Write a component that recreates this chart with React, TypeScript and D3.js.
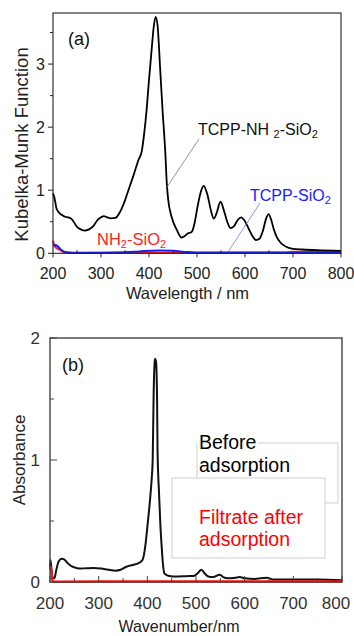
import React, { useEffect, useRef } from "react";
import * as d3 from "d3";

// panel (a): diffuse reflectance, Kubelka-Munk
const aTcppNh2Wl = [200, 203, 207, 212, 218, 225, 232, 238, 243, 250, 258, 266, 275, 284, 292, 300, 306, 313, 320, 330, 340, 350, 358, 367, 378, 385, 390, 395, 400, 405.5, 410, 414, 418, 423, 428, 434, 437, 440, 447, 458, 468, 474, 480, 489, 495, 500, 507, 514, 522, 529, 535, 541, 549, 556, 563, 570, 577, 585, 592, 599, 607, 615, 623, 630, 637, 644, 649, 655, 660, 666, 673, 680, 690, 700, 720, 750, 800];
const aTcppNh2Val = [0.95, 0.88, 0.72, 0.65, 0.61, 0.58, 0.57, 0.55, 0.5, 0.42, 0.38, 0.36, 0.38, 0.43, 0.52, 0.57, 0.59, 0.57, 0.555, 0.56, 0.66, 0.84, 1.02, 1.22, 1.48, 1.62, 1.9, 2.27, 2.75, 3.23, 3.6, 3.75, 3.6, 2.96, 2.3, 1.59, 1.12, 0.85, 0.58, 0.37, 0.25, 0.27, 0.31, 0.34, 0.48, 0.69, 0.95, 1.07, 0.92, 0.68, 0.55, 0.64, 0.82, 0.68, 0.5, 0.4, 0.43, 0.53, 0.57, 0.52, 0.4, 0.28, 0.21, 0.23, 0.35, 0.55, 0.62, 0.52, 0.38, 0.26, 0.18, 0.13, 0.09, 0.07, 0.06, 0.05, 0.04];

const aTcppSiWl = [200, 205, 210, 215, 220, 228, 240, 300, 350, 380, 420, 450, 480, 520, 600, 700, 800];
const aTcppSiVal = [0.12, 0.13, 0.11, 0.07, 0.04, 0.015, 0.008, 0.01, 0.015, 0.03, 0.045, 0.04, 0.02, 0.012, 0.012, 0.01, 0.01];

const aNh2SiWl = [200, 203, 208, 215, 225, 240, 400, 500, 600, 680, 700, 800];
const aNh2SiVal = [0.2, 0.12, 0.08, 0.05, 0.015, 0.005, 0.01, 0.006, 0.008, 0.012, 0.025, 0.025];

// panel (b): solution absorbance
const bBeforeWl = [200, 201, 203, 205, 209, 213, 218, 224, 229, 235, 242, 250, 260, 275, 290, 305, 320, 335, 345, 357, 370, 382, 390, 396, 400, 405, 409, 411, 413, 415, 416, 418, 420, 421, 424, 427, 429, 432, 435, 445, 460, 480, 495, 503, 511, 518, 525, 535, 549, 556, 565, 580, 590, 600, 620, 645, 660, 700, 750, 800];
const bBeforeVal = [0.12, 0.18, 0.1, 0.04, 0.03, 0.1, 0.17, 0.19, 0.185, 0.16, 0.135, 0.12, 0.11, 0.113, 0.115, 0.11, 0.1, 0.093, 0.1, 0.125, 0.14, 0.155, 0.18, 0.3, 0.45, 0.65, 0.85, 1.0, 1.55, 1.8, 1.83, 1.8, 1.5, 1.08, 0.73, 0.45, 0.32, 0.15, 0.07, 0.05, 0.045, 0.048, 0.05, 0.07, 0.1, 0.07, 0.045, 0.04, 0.06, 0.04, 0.03, 0.035, 0.04, 0.03, 0.025, 0.035, 0.02, 0.02, 0.02, 0.015];

const bFiltrateWl = [200, 202, 204, 206, 220, 400, 600, 800];
const bFiltrateVal = [0.1, 0.12, 0.04, 0.005, 0.003, 0.004, 0.004, 0.005];

const xMajor = [200, 300, 400, 500, 600, 700, 800];
const xMinor = [250, 350, 450, 550, 650, 750];
const aYMajor = [0, 1, 2, 3];
const aYMinor = [0.5, 1.5, 2.5, 3.5];
const bYMajor = [0, 1, 2];
const bYMinor = [0.5, 1.5];

const FONT = "Arial, 'Liberation Sans', sans-serif";

const zip = (xs: number[], ys: number[]) => xs.map((x, i) => [x, ys[i]] as [number, number]);

const App = () => {
  const svgRef = useRef<SVGSVGElement>(null);

  useEffect(() => {
    const svg = d3.select(svgRef.current);
    svg.selectAll("*").remove();
    svg.style("font-family", FONT);

    // ---------- panel (a) ----------
    const ax = d3.scaleLinear().domain([200, 800]).range([53, 341]);
    const ay = d3.scaleLinear().domain([0, 3.81]).range([253.3, 13]);
    const aLine = d3
      .line<[number, number]>()
      .x((d) => ax(d[0]))
      .y((d) => ay(d[1]))
      .curve(d3.curveMonotoneX);

    const ga = svg.append("g");
    ga.append("path").datum(zip(aNh2SiWl, aNh2SiVal)).attr("d", aLine).attr("fill", "none").attr("stroke", "#ff1a1a").attr("stroke-width", 2);
    ga.append("path").datum(zip(aTcppSiWl, aTcppSiVal)).attr("d", aLine).attr("fill", "none").attr("stroke", "#1a1aff").attr("stroke-width", 2);
    ga.append("path").datum(zip(aTcppNh2Wl, aTcppNh2Val)).attr("d", aLine).attr("fill", "none").attr("stroke", "#000").attr("stroke-width", 1.8);

    ga.append("rect")
      .attr("x", ax(200)).attr("y", ay(3.81))
      .attr("width", ax(800) - ax(200)).attr("height", ay(0) - ay(3.81))
      .attr("fill", "none").attr("stroke", "#222").attr("stroke-width", 1.1);

    ga.selectAll(".ayM").data(aYMajor).enter().append("line")
      .attr("x1", ax(200) - 5).attr("x2", ax(200)).attr("y1", (d) => ay(d)).attr("y2", (d) => ay(d))
      .attr("stroke", "#222");
    ga.selectAll(".aym").data(aYMinor).enter().append("line")
      .attr("x1", ax(200) - 3).attr("x2", ax(200)).attr("y1", (d) => ay(d)).attr("y2", (d) => ay(d))
      .attr("stroke", "#222");
    ga.selectAll(".ayl").data(aYMajor).enter().append("text")
      .attr("x", ax(200) - 8).attr("y", (d) => ay(d)).attr("dy", "0.36em")
      .attr("text-anchor", "end").attr("font-size", 16).attr("fill", "#222")
      .text((d) => d);

    ga.selectAll(".axM").data(xMajor).enter().append("line")
      .attr("x1", (d) => ax(d)).attr("x2", (d) => ax(d)).attr("y1", ay(0)).attr("y2", ay(0) + 4)
      .attr("stroke", "#222");
    ga.selectAll(".axm").data(xMinor).enter().append("line")
      .attr("x1", (d) => ax(d)).attr("x2", (d) => ax(d)).attr("y1", ay(0)).attr("y2", ay(0) - 3)
      .attr("stroke", "#222");
    ga.selectAll(".axl").data(xMajor).enter().append("text")
      .attr("x", (d) => ax(d)).attr("y", 279)
      .attr("text-anchor", "middle").attr("font-size", 16).attr("fill", "#222")
      .text((d) => d);

    ga.append("text").attr("x", 187.5).attr("y", 299.3).attr("text-anchor", "middle")
      .attr("font-size", 16.5).attr("fill", "#222").text("Wavelength / nm");
    ga.append("text").attr("transform", "translate(28,144.5) rotate(-90)").attr("text-anchor", "middle")
      .attr("font-size", 18.5).attr("fill", "#222").text("Kubelka-Munk Function");

    ga.append("text").attr("x", 68).attr("y", 45).attr("font-size", 18).attr("fill", "#111").text("(a)");

    // labels with subscripts
    const sub = (t: any, parts: [string, boolean][]) => {
      parts.forEach(([s, isSub]) => {
        t.append("tspan")
          .attr("font-size", isSub ? 11 : null)
          .attr("baseline-shift", isSub ? "-25%" : null)
          .text(s);
      });
    };
    const t1 = ga.append("text").attr("x", 198).attr("y", 135).attr("font-size", 16).attr("fill", "#111");
    sub(t1, [["TCPP-NH ", false], ["2", true], ["-SiO", false], ["2", true]]);
    ga.append("line").attr("x1", 199).attr("y1", 139).attr("x2", 167).attr("y2", 187).attr("stroke", "#777").attr("stroke-width", 0.8);

    const t2 = ga.append("text").attr("x", 250).attr("y", 201).attr("font-size", 16).attr("fill", "#1a1aff");
    sub(t2, [["TCPP-SiO", false], ["2", true]]);
    ga.append("line").attr("x1", 260).attr("y1", 203).attr("x2", 228).attr("y2", 252).attr("stroke", "#6f6fff").attr("stroke-width", 0.8);

    const t3 = ga.append("text").attr("x", 97).attr("y", 245).attr("font-size", 16.5).attr("fill", "#ff2020");
    sub(t3, [["NH", false], ["2", true], ["-SiO", false], ["2", true]]);

    // ---------- panel (b) ----------
    const bx = d3.scaleLinear().domain([200, 800]).range([50, 342]);
    const by = d3.scaleLinear().domain([0, 2]).range([582, 338]);
    const bLine = d3
      .line<[number, number]>()
      .x((d) => bx(d[0]))
      .y((d) => by(d[1]))
      .curve(d3.curveMonotoneX);

    const gb = svg.append("g");
    gb.append("path").datum(zip(bBeforeWl, bBeforeVal)).attr("d", bLine).attr("fill", "none").attr("stroke", "#111").attr("stroke-width", 2);
    gb.append("path").datum(zip(bFiltrateWl, bFiltrateVal)).attr("d", bLine).attr("fill", "none").attr("stroke", "#ff1010").attr("stroke-width", 2.5);

    gb.append("rect")
      .attr("x", bx(200)).attr("y", by(2))
      .attr("width", bx(800) - bx(200)).attr("height", by(0) - by(2))
      .attr("fill", "none").attr("stroke", "#444").attr("stroke-width", 1.4);

    gb.selectAll(".byM").data(bYMajor).enter().append("line")
      .attr("x1", bx(200)).attr("x2", bx(200) + 7).attr("y1", (d) => by(d)).attr("y2", (d) => by(d))
      .attr("stroke", "#444");
    gb.selectAll(".bym").data(bYMinor).enter().append("line")
      .attr("x1", bx(200)).attr("x2", bx(200) + 4).attr("y1", (d) => by(d)).attr("y2", (d) => by(d))
      .attr("stroke", "#444");
    gb.selectAll(".byl").data(bYMajor).enter().append("text")
      .attr("x", 40).attr("y", (d) => by(d)).attr("dy", "0.36em")
      .attr("text-anchor", "end").attr("font-size", 17).attr("fill", "#333")
      .text((d) => d);

    gb.selectAll(".bxM").data(xMajor).enter().append("line")
      .attr("x1", (d) => bx(d)).attr("x2", (d) => bx(d)).attr("y1", by(0)).attr("y2", by(0) - 6)
      .attr("stroke", "#444");
    gb.selectAll(".bxm").data(xMinor).enter().append("line")
      .attr("x1", (d) => bx(d)).attr("x2", (d) => bx(d)).attr("y1", by(0)).attr("y2", by(0) - 4)
      .attr("stroke", "#444");
    gb.selectAll(".bxl").data(xMajor).enter().append("text")
      .attr("x", (d) => Math.min(bx(d), 336)).attr("y", 602.7).attr("dy", "0.36em")
      .attr("text-anchor", "middle").attr("font-size", 17).attr("fill", "#333")
      .text((d) => d);

    gb.append("text").attr("x", 179).attr("y", 632).attr("text-anchor", "middle")
      .attr("font-size", 16).attr("fill", "#222").text("Wavenumber/nm");
    gb.append("text").attr("transform", "translate(25,460) rotate(-90)").attr("text-anchor", "middle")
      .attr("font-size", 17).attr("fill", "#222").text("Absorbance");

    gb.append("text").attr("x", 62).attr("y", 371).attr("font-size", 18).attr("fill", "#111").text("(b)");

    // legend text boxes
    gb.append("rect").attr("x", 197).attr("y", 443).attr("width", 141).attr("height", 60)
      .attr("fill", "#fff").attr("stroke", "#cfcfcf").attr("stroke-width", 1);
    gb.append("rect").attr("x", 197.5).attr("y", 438).attr("width", 60).attr("height", 10).attr("fill", "#fff");
    gb.append("rect").attr("x", 172).attr("y", 478).attr("width", 153).attr("height", 80)
      .attr("fill", "#fff").attr("stroke", "#cfcfcf").attr("stroke-width", 1);

    const lg = gb.append("g").attr("font-size", 19.5);
    lg.append("text").attr("x", 199).attr("y", 448.5).attr("fill", "#000").text("Before");
    lg.append("text").attr("x", 199).attr("y", 472).attr("fill", "#000").text("adsorption");
    lg.append("text").attr("x", 199).attr("y", 523.5).attr("fill", "#ff0000").text("Filtrate after");
    lg.append("text").attr("x", 199).attr("y", 546).attr("fill", "#ff0000").text("adsorption");
  }, []);

  return (
    <svg
      ref={svgRef}
      width={354}
      height={636}
      style={{ position: "absolute", left: 0, top: 0, background: "#fff" }}
    />
  );
};

export default App;
